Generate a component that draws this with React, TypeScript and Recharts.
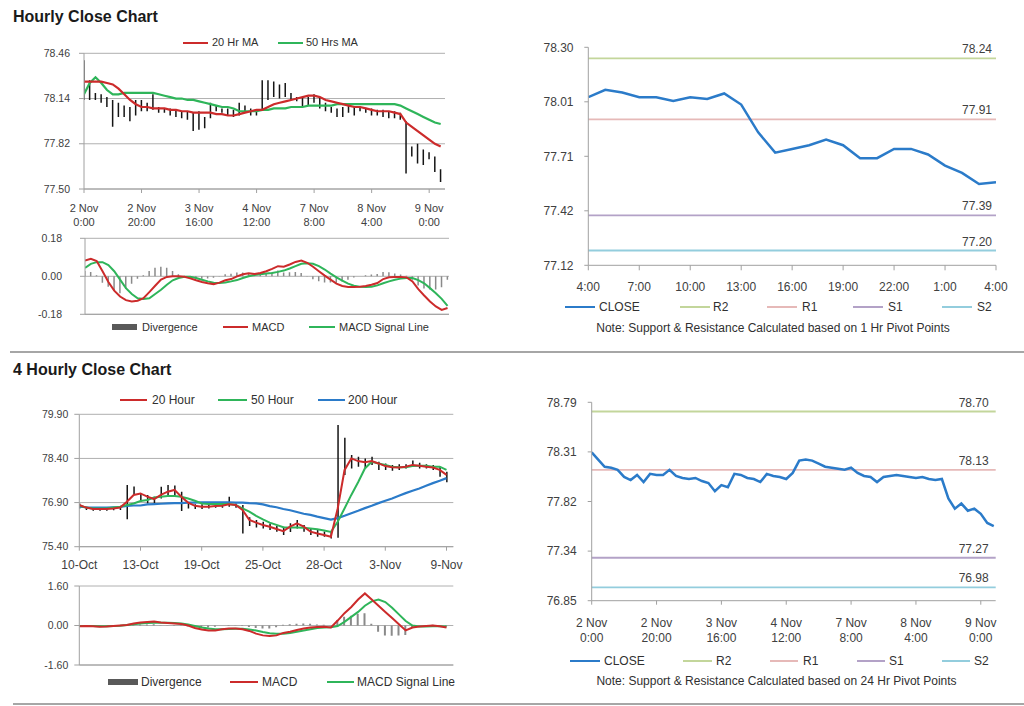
import React from 'react';
import { ComposedChart, Line, Bar, XAxis, YAxis, CartesianGrid, ReferenceLine } from 'recharts';

const FONT = '"Liberation Sans", Arial, Helvetica, sans-serif';
const TICK_COLOR = '#404040';
const TEXT_COLOR = '#303030';
const AXIS_COLOR = '#a0a0a0';
const GRID_COLOR = '#b0b0b0';
const RED = '#cc2b2b';
const GREEN = '#2fb55a';
const BLUE = '#2b7bc9';
const BAR_BLACK = '#151515';
const DIV_GRAY = '#8a8a8a';

// ---------------- Hourly close chart (2-hour steps from 2 Nov 0:00) ----------------
const hourlyHours = Array.from({ length: 63 }, (_, i) => i * 2);
const hourlyTickHours = [0, 20, 40, 60, 80, 100, 120];
const hourlyTickLabels = [
  ['2 Nov', '0:00'], ['2 Nov', '20:00'], ['3 Nov', '16:00'], ['4 Nov', '12:00'],
  ['7 Nov', '8:00'], ['8 Nov', '4:00'], ['9 Nov', '0:00'],
];
const hourlyYTicks = [77.5, 77.82, 78.14, 78.46];
const hourlyYLabels = ['77.50', '77.82', '78.14', '78.46'];

const hourlyLow = [
  78.13, 78.13, 78.13, 78.11, 78.08, 77.94, 78.01, 78.01, 77.98, 78.02,
  78.05, 78.05, 78.06, 78.04, 78.04, 78.02, 78.01, 78.00, 77.99, 77.91,
  77.92, 77.93, 78.00, 78.05, 78.04, 78.02, 78.01, 78.02, 78.04, 78.02,
  78.02, 78.06, 78.13, 78.15, 78.14, 78.15, 78.13, 78.12, 78.08, 78.09,
  78.11, 78.07, 78.05, 78.04, 78.01, 78.01, 78.04, 78.02, 78.05, 78.04,
  78.02, 78.02, 78.01, 78.00, 78.00, 77.99, 77.61, 77.73, 77.68, 77.67,
  77.71, 77.62, 77.55,
];
const hourlyHigh = [
  78.41, 78.27, 78.18, 78.17, 78.15, 78.13, 78.11, 78.09, 78.08, 78.13,
  78.13, 78.11, 78.17, 78.08, 78.07, 78.07, 78.06, 78.05, 78.05, 78.04,
  78.05, 78.01, 78.11, 78.09, 78.07, 78.07, 78.06, 78.11, 78.09, 78.07,
  78.06, 78.27, 78.27, 78.26, 78.24, 78.25, 78.18, 78.15, 78.15, 78.15,
  78.17, 78.15, 78.11, 78.08, 78.07, 78.08, 78.09, 78.08, 78.08, 78.07,
  78.07, 78.06, 78.06, 78.05, 78.05, 78.04, 77.98, 77.80, 77.82, 77.78,
  77.76, 77.73, 77.64,
];
const hourlyMa20 = [
  78.26, 78.26, 78.26, 78.26, 78.25, 78.24, 78.21, 78.17, 78.13, 78.10,
  78.08, 78.08, 78.07, 78.07, 78.07, 78.06, 78.06, 78.05, 78.05, 78.04,
  78.04, 78.04, 78.04, 78.03, 78.03, 78.02, 78.02, 78.03, 78.04, 78.05,
  78.06, 78.06, 78.08, 78.10, 78.11, 78.12, 78.13, 78.14, 78.15, 78.16,
  78.16, 78.15, 78.13, 78.12, 78.11, 78.10, 78.09, 78.08, 78.08, 78.07,
  78.06, 78.05, 78.05, 78.05, 78.04, 78.03, 77.97, 77.94, 77.91, 77.88,
  77.85, 77.82, 77.80,
];
const hourlyMa50 = [
  78.17, 78.25, 78.29, 78.25, 78.20, 78.17, 78.17, 78.18, 78.18, 78.18,
  78.18, 78.18, 78.18, 78.17, 78.16, 78.15, 78.14, 78.14, 78.13, 78.13,
  78.12, 78.11, 78.10, 78.09, 78.08, 78.08, 78.07, 78.05, 78.05, 78.05,
  78.05, 78.06, 78.06, 78.07, 78.07, 78.07, 78.08, 78.08, 78.08, 78.09,
  78.09, 78.09, 78.09, 78.09, 78.10, 78.10, 78.10, 78.10, 78.10, 78.10,
  78.10, 78.10, 78.10, 78.10, 78.10, 78.09, 78.07, 78.05, 78.03, 78.01,
  77.99, 77.97, 77.96,
];

// MACD of hourly chart
const macd1YTicks = [-0.18, 0, 0.18];
const macd1YLabels = ['-0.18', '0.00', '0.18'];
const macd1Line = [
  0.075, 0.083, 0.072, 0.024, -0.027, -0.068, -0.096, -0.113, -0.119, -0.116,
  -0.104, -0.075, -0.045, -0.016, -0.003, 0.0, 0.0, -0.002, -0.010, -0.019,
  -0.027, -0.033, -0.037, -0.030, -0.019, -0.013, 0.0, 0.010, 0.014, 0.011,
  0.016, 0.024, 0.035, 0.048, 0.045, 0.056, 0.068, 0.075, 0.064, 0.045,
  0.024, 0.003, -0.016, -0.035, -0.046, -0.051, -0.051, -0.049, -0.046, -0.040,
  -0.032, -0.013, -0.005, -0.003, -0.003, -0.005, -0.024, -0.061, -0.091, -0.119,
  -0.143, -0.159, -0.150,
];
const macd1Signal = [
  0.040, 0.059, 0.067, 0.067, 0.053, 0.024, -0.016, -0.056, -0.084, -0.104,
  -0.108, -0.104, -0.084, -0.064, -0.040, -0.019, -0.008, -0.002, -0.002, -0.008,
  -0.016, -0.024, -0.030, -0.032, -0.029, -0.024, -0.018, -0.008, 0.0, 0.006,
  0.010, 0.013, 0.016, 0.021, 0.027, 0.037, 0.048, 0.059, 0.062, 0.059,
  0.048, 0.032, 0.013, -0.005, -0.021, -0.035, -0.045, -0.049, -0.051, -0.049,
  -0.043, -0.033, -0.024, -0.016, -0.011, -0.008, -0.008, -0.018, -0.033, -0.056,
  -0.080, -0.107, -0.140,
];
const macd1Divergence = [
  0.025, 0.020, 0.005, -0.030, -0.050, -0.070, -0.080, -0.060, -0.035, -0.012,
  0.005, 0.025, 0.040, 0.045, 0.040, 0.025, 0.010, 0.0, -0.008, -0.010,
  -0.012, -0.010, -0.007, 0.002, 0.010, 0.012, 0.018, 0.018, 0.014, 0.005,
  0.006, 0.011, 0.019, 0.027, 0.018, 0.019, 0.020, 0.016, 0.002, -0.014,
  -0.024, -0.029, -0.029, -0.030, -0.025, -0.016, -0.006, 0.0, 0.005, 0.009,
  0.011, 0.020, 0.019, 0.013, 0.008, 0.003, -0.016, -0.043, -0.058, -0.063,
  -0.063, -0.052, -0.016,
];

// ---------------- 1 Hr close vs pivots (top right) ----------------
const intradayHours = Array.from({ length: 25 }, (_, i) => i);
const intradayTicks = [0, 3, 6, 9, 12, 15, 18, 21, 24];
const intradayTickLabels = ['4:00', '7:00', '10:00', '13:00', '16:00', '19:00', '22:00', '1:00', '4:00'];
const intradayClose = [
  78.03, 78.07, 78.055, 78.03, 78.03, 78.01, 78.03, 78.02, 78.05, 77.99,
  77.84, 77.73, 77.75, 77.77, 77.80, 77.77, 77.70, 77.70, 77.75, 77.75,
  77.72, 77.66, 77.62, 77.56, 77.57,
];
const intradayYTicks = [77.12, 77.415, 77.71, 78.005, 78.3];
const intradayYLabels = ['77.12', '77.42', '77.71', '78.01', '78.30'];
const pivotNames = ['R2', 'R1', 'S1', 'S2'];
const pivotColors = ['#c3d69b', '#e6b9b8', '#b3a2c7', '#93cddd'];
const pivots1h = [78.24, 77.91, 77.39, 77.2];
const pivots1hLabels = ['78.24', '77.91', '77.39', '77.20'];

// ---------------- 4 Hourly close chart ----------------
const fourHourIdx = Array.from({ length: 55 }, (_, i) => i * 2);
const fourHourTicks = [0, 18, 36, 54, 72, 90, 108];
const fourHourTickLabels = ['10-Oct', '13-Oct', '19-Oct', '25-Oct', '28-Oct', '3-Nov', '9-Nov'];
const fourHourYTicks = [75.4, 76.9, 78.4, 79.9];
const fourHourYLabels = ['75.40', '76.90', '78.40', '79.90'];
const fourHourLow = [
  76.70, 76.65, 76.62, 76.62, 76.62, 76.64, 76.65, 76.33, 77.16, 76.93,
  76.87, 76.87, 77.04, 77.16, 77.10, 76.61, 76.70, 76.68, 76.68, 76.70,
  76.72, 76.72, 76.76, 76.72, 75.85, 76.10, 76.05, 76.02, 75.97, 75.91,
  75.80, 75.90, 76.02, 75.91, 75.80, 75.74, 75.74, 75.68, 75.70, 77.84,
  78.06, 78.12, 78.06, 78.18, 78.01, 78.01, 77.98, 78.01, 78.06, 78.12,
  78.06, 78.06, 78.01, 77.78, 77.59,
];
const fourHourHigh = [
  76.87, 76.76, 76.70, 76.70, 76.70, 76.72, 76.76, 77.50, 77.45, 77.21,
  77.16, 77.10, 77.44, 77.50, 77.48, 77.27, 76.87, 76.84, 76.84, 76.82,
  76.85, 76.87, 77.10, 76.87, 76.82, 76.40, 76.31, 76.25, 76.19, 76.10,
  76.08, 76.20, 76.31, 76.14, 76.02, 75.97, 75.92, 75.91, 79.54, 79.10,
  78.52, 78.46, 78.40, 78.46, 78.29, 78.23, 78.18, 78.20, 78.20, 78.33,
  78.25, 78.20, 78.18, 78.12, 77.95,
];
const fourHourMa20 = [
  76.82, 76.73, 76.68, 76.68, 76.68, 76.70, 76.73, 76.93, 77.16, 77.21,
  77.10, 77.02, 77.16, 77.27, 77.33, 77.10, 76.90, 76.79, 76.76, 76.76,
  76.78, 76.79, 76.84, 76.82, 76.65, 76.31, 76.22, 76.14, 76.08, 76.00,
  75.93, 76.08, 76.19, 76.08, 75.91, 75.85, 75.80, 75.74, 76.70, 78.00,
  78.40, 78.31, 78.27, 78.31, 78.23, 78.14, 78.10, 78.09, 78.12, 78.18,
  78.15, 78.12, 78.09, 78.01, 77.84,
];
const fourHourMa50 = [
  76.79, 76.73, 76.70, 76.70, 76.70, 76.73, 76.76, 76.82, 76.87, 76.95,
  76.99, 77.07, 77.10, 77.12, 77.12, 77.10, 77.04, 76.96, 76.87, 76.85,
  76.85, 76.85, 76.85, 76.82, 76.70, 76.59, 76.45, 76.33, 76.22, 76.14,
  76.06, 76.05, 76.05, 76.04, 76.02, 75.99, 75.95, 75.90, 76.25, 76.70,
  77.16, 77.59, 78.06, 78.29, 78.23, 78.18, 78.12, 78.10, 78.10, 78.14,
  78.15, 78.15, 78.12, 78.12, 78.01,
];
const fourHourMa200 = [
  76.76, 76.74, 76.73, 76.73, 76.73, 76.74, 76.75, 76.79, 76.80, 76.80,
  76.84, 76.85, 76.86, 76.87, 76.88, 76.88, 76.90, 76.90, 76.91, 76.91,
  76.91, 76.91, 76.91, 76.90, 76.90, 76.88, 76.87, 76.84, 76.78, 76.74,
  76.68, 76.64, 76.58, 76.52, 76.48, 76.42, 76.37, 76.32, 76.37, 76.45,
  76.54, 76.62, 76.71, 76.79, 76.88, 76.96, 77.04, 77.13, 77.22, 77.30,
  77.38, 77.47, 77.56, 77.64, 77.73,
];

// MACD of 4 hourly chart
const macd2YTicks = [-1.6, 0, 1.6];
const macd2YLabels = ['-1.60', '0.00', '1.60'];
const macd2Line = [
  -0.03, -0.02, -0.03, -0.05, -0.04, -0.02, 0.0, 0.02, 0.08, 0.12,
  0.14, 0.16, 0.12, 0.10, 0.08, 0.06, 0.0, -0.10, -0.16, -0.20,
  -0.20, -0.15, -0.12, -0.12, -0.15, -0.22, -0.33, -0.40, -0.43, -0.40,
  -0.30, -0.25, -0.18, -0.12, -0.08, -0.06, -0.05, -0.08, 0.20, 0.50,
  0.75, 1.05, 1.30, 1.05, 0.80, 0.55, 0.30, 0.05, -0.20, -0.08,
  -0.04, -0.02, 0.0, -0.03, -0.08,
];
const macd2Signal = [
  -0.02, -0.02, -0.02, -0.03, -0.03, -0.02, -0.01, 0.02, 0.05, 0.08,
  0.10, 0.11, 0.11, 0.11, 0.10, 0.08, 0.04, -0.02, -0.08, -0.12,
  -0.15, -0.15, -0.14, -0.13, -0.13, -0.16, -0.20, -0.26, -0.31, -0.33,
  -0.33, -0.30, -0.25, -0.20, -0.15, -0.10, -0.08, -0.07, -0.02, 0.15,
  0.35, 0.55, 0.80, 0.98, 1.05, 0.95, 0.72, 0.45, 0.18, 0.0,
  -0.04, -0.04, -0.03, -0.03, -0.04,
];
const macd2Divergence = [
  0.0, 0.0, -0.01, -0.02, -0.01, 0.0, 0.01, 0.0, 0.03, 0.04,
  0.04, 0.05, 0.01, -0.01, -0.02, -0.02, -0.04, -0.08, -0.08, -0.08,
  -0.05, 0.0, 0.02, 0.01, -0.02, -0.06, -0.10, -0.12, -0.12, -0.07,
  0.03, 0.05, 0.07, 0.08, 0.07, 0.04, 0.03, -0.01, 0.22, 0.35,
  0.40, 0.48, 0.50, 0.07, -0.25, -0.40, -0.42, -0.40, -0.38, -0.08,
  0.0, 0.02, 0.03, 0.0, -0.04,
];

// ---------------- 24 Hr pivots chart (bottom right) ----------------
const dailyClose = [
  78.30, 78.23, 78.16, 78.15, 78.13, 78.06, 78.03, 78.08, 78.01, 78.09,
  78.08, 78.08, 78.13, 78.07, 78.05, 78.04, 78.05, 78.02, 78.00, 77.92,
  77.98, 77.96, 78.09, 78.08, 78.05, 78.04, 78.01, 78.09, 78.07, 78.06,
  78.04, 78.10, 78.22, 78.23, 78.22, 78.19, 78.16, 78.15, 78.14, 78.13,
  78.15, 78.10, 78.07, 78.06, 78.01, 78.06, 78.07, 78.08, 78.07, 78.06,
  78.05, 78.06, 78.04, 78.03, 78.04, 77.85, 77.75, 77.80, 77.73, 77.75,
  77.70, 77.61, 77.58,
];
const dailyYTicks = [76.85, 77.335, 77.82, 78.305, 78.79];
const dailyYLabels = ['76.85', '77.34', '77.82', '78.31', '78.79'];
const pivots24h = [78.7, 78.13, 77.27, 76.98];
const pivots24hLabels = ['78.70', '78.13', '77.27', '76.98'];

// ---------------- chart tables ----------------
const hourlyData = hourlyHours.map((t, i) => ({
  t, range: [hourlyLow[i], hourlyHigh[i]], ma20: hourlyMa20[i], ma50: hourlyMa50[i],
}));
const macd1Data = hourlyHours.map((t, i) => ({
  t, macd: macd1Line[i], signal: macd1Signal[i], div: macd1Divergence[i],
}));
const intradayData = intradayHours.map((t, i) => ({ t, close: intradayClose[i] }));
const fourHourData = fourHourIdx.map((u, i) => ({
  u, range: [fourHourLow[i], fourHourHigh[i]], ma20: fourHourMa20[i], ma50: fourHourMa50[i], ma200: fourHourMa200[i],
}));
const macd2Data = fourHourIdx.map((u, i) => ({
  u, macd: macd2Line[i], signal: macd2Signal[i], div: macd2Divergence[i],
}));
const dailyData = hourlyHours.map((t, i) => ({ t, close: dailyClose[i] }));

// ---------------- helpers ----------------
function nearestIndex(arr: number[], v: number) {
  let best = 0;
  for (let i = 1; i < arr.length; i++) if (Math.abs(arr[i] - v) < Math.abs(arr[best] - v)) best = i;
  return best;
}

function makeYTick(ticks: number[], labels: string[], fontSize: number) {
  return (props: any) => {
    const { x, y, payload } = props;
    return (
      <text x={x} y={y} dy={fontSize * 0.35} textAnchor="end" fill={TICK_COLOR} fontSize={fontSize} fontFamily={FONT}>
        {labels[nearestIndex(ticks, payload.value)]}
      </text>
    );
  };
}

function makeXTick(ticks: number[], labels: string[], fontSize: number, dy: number) {
  return (props: any) => {
    const { x, y, payload } = props;
    return (
      <text x={x} y={y} dy={dy} textAnchor="middle" fill={TICK_COLOR} fontSize={fontSize} fontFamily={FONT}>
        {labels[nearestIndex(ticks, payload.value)]}
      </text>
    );
  };
}

function makeTwoLineTick(ticks: number[], labels: string[][], fontSize: number, dy1: number, lh: number) {
  return (props: any) => {
    const { x, y, payload } = props;
    const lab = labels[nearestIndex(ticks, payload.value)];
    return (
      <text x={x} y={y} textAnchor="middle" fill={TICK_COLOR} fontSize={fontSize} fontFamily={FONT}>
        <tspan x={x} dy={dy1}>{lab[0]}</tspan>
        <tspan x={x} dy={lh}>{lab[1]}</tspan>
      </text>
    );
  };
}

const PivotLabel = (props: any) => {
  const vb = props.viewBox || {};
  return (
    <text x={vb.x + vb.width - props.inset} y={vb.y - 5} textAnchor="end" fill={TICK_COLOR} fontSize={12} fontFamily={FONT}>
      {props.text}
    </text>
  );
};

type LegendItem = { name: string; color: string; block?: boolean; x: number; w: number; tx: number };
function LegendRow({ cy, fontSize, items }: { cy: number; fontSize: number; items: LegendItem[] }) {
  return (
    <>
      {items.map((it) => (
        <React.Fragment key={it.name + it.x}>
          <div style={{
            position: 'absolute', left: it.x, top: cy - (it.block ? 3 : 1), width: it.w,
            height: it.block ? 6 : 2, background: it.color,
          }} />
          <div style={{
            position: 'absolute', left: it.tx, top: cy - fontSize * 0.59, fontSize, lineHeight: `${fontSize * 1.2}px`,
            color: TEXT_COLOR, whiteSpace: 'nowrap', fontFamily: FONT,
          }}>{it.name}</div>
        </React.Fragment>
      ))}
    </>
  );
}

function Note({ cy, cx, text }: { cy: number; cx: number; text: string }) {
  return (
    <div style={{
      position: 'absolute', left: cx - 250, width: 500, top: cy - 12 * 0.59, fontSize: 12, lineHeight: '14.4px',
      color: TEXT_COLOR, textAlign: 'center', whiteSpace: 'nowrap', fontFamily: FONT,
    }}>{text}</div>
  );
}

const abs = (left: number, top: number): React.CSSProperties => ({ position: 'absolute', left, top });

export default function App() {
  return (
    <div style={{ position: 'absolute', left: 0, top: 0, width: 1024, height: 706, background: '#fff', fontFamily: FONT, overflow: 'hidden' }}>
      {/* titles */}
      <div style={{ position: 'absolute', left: 13, top: 6.6, fontSize: 16, fontWeight: 'bold', lineHeight: '19.2px', color: '#1a1a1a' }}>Hourly Close Chart</div>
      <div style={{ position: 'absolute', left: 13, top: 360.4, fontSize: 16, fontWeight: 'bold', lineHeight: '19.2px', color: '#1a1a1a' }}>4 Hourly Close Chart</div>
      <div style={{ position: 'absolute', left: 10, top: 351, width: 1014, height: 2, background: '#a6a6a6' }} />
      <div style={{ position: 'absolute', left: 13, top: 703, width: 1011, height: 2, background: '#a6a6a6' }} />

      {/* Panel 1: hourly close */}
      <LegendRow cy={42.7} fontSize={11} items={[
        { name: '20 Hr MA', color: RED, x: 183, w: 25, tx: 212 },
        { name: '50 Hrs MA', color: GREEN, x: 278, w: 25, tx: 306 },
      ]} />
      <div style={abs(0, 30)}>
        <ComposedChart width={460} height={220} data={hourlyData} margin={{ top: 23.3, right: 15, bottom: 0, left: 0 }}>
          <CartesianGrid vertical={false} stroke={GRID_COLOR} />
          <XAxis dataKey="t" type="number" domain={[0, 125.5]} ticks={hourlyTickHours} interval={0} allowDataOverflow
            height={61} tickSize={4} tickMargin={2} stroke={AXIS_COLOR}
            tick={makeTwoLineTick(hourlyTickHours, hourlyTickLabels, 11, 17, 14)} />
          <YAxis type="number" domain={[77.5, 78.46]} ticks={hourlyYTicks} interval={0} allowDataOverflow
            width={84} tickSize={5} tickMargin={9} stroke={AXIS_COLOR}
            tick={makeYTick(hourlyYTicks, hourlyYLabels, 10.5)} />
          <Bar dataKey="range" fill={BAR_BLACK} barSize={1.5} isAnimationActive={false} />
          <Line type="linear" dataKey="ma50" stroke={GREEN} strokeWidth={2.2} dot={false} isAnimationActive={false} />
          <Line type="linear" dataKey="ma20" stroke={RED} strokeWidth={2.2} dot={false} isAnimationActive={false} />
        </ComposedChart>
      </div>

      {/* Panel 2: hourly MACD */}
      <div style={abs(0, 225)}>
        <ComposedChart width={460} height={100} data={macd1Data} margin={{ top: 13.3, right: 11, bottom: 8, left: 0 }}>
          <CartesianGrid vertical={false} stroke={GRID_COLOR} />
          <XAxis dataKey="t" type="number" domain={[0, 124.5]} allowDataOverflow height={2.7}
            tick={false} tickLine={false} stroke={AXIS_COLOR} />
          <YAxis type="number" domain={[-0.18, 0.18]} ticks={macd1YTicks} interval={0} allowDataOverflow
            width={85} tickSize={5} tickMargin={18} stroke={AXIS_COLOR}
            tick={makeYTick(macd1YTicks, macd1YLabels, 10.5)} />
          <Bar dataKey="div" fill={DIV_GRAY} barSize={1.5} isAnimationActive={false} />
          <Line type="linear" dataKey="signal" stroke={GREEN} strokeWidth={2} dot={false} isAnimationActive={false} />
          <Line type="linear" dataKey="macd" stroke={RED} strokeWidth={2} dot={false} isAnimationActive={false} />
        </ComposedChart>
      </div>
      <LegendRow cy={327} fontSize={11} items={[
        { name: 'Divergence', color: '#595959', block: true, x: 112, w: 25, tx: 142 },
        { name: 'MACD', color: RED, x: 223, w: 25, tx: 252 },
        { name: 'MACD Signal Line', color: GREEN, x: 309, w: 26, tx: 339 },
      ]} />

      {/* Panel 3: 1 Hr pivots */}
      <div style={abs(530, 30)}>
        <ComposedChart width={480} height={272} data={intradayData} margin={{ top: 17.3, right: 14, bottom: 0, left: 0 }}>
          <XAxis dataKey="t" type="number" domain={[0, 24]} ticks={intradayTicks} interval={0} allowDataOverflow
            height={36.7} tickSize={5} tickMargin={2} stroke={AXIS_COLOR}
            tick={makeXTick(intradayTicks, intradayTickLabels, 12, 19)} />
          <YAxis type="number" domain={[77.12, 78.3]} ticks={intradayYTicks} interval={0} allowDataOverflow
            width={58.3} tickSize={4} tickMargin={10.8} stroke={AXIS_COLOR}
            tick={makeYTick(intradayYTicks, intradayYLabels, 12)} />
          {pivots1h.map((v, i) => (
            <ReferenceLine key={pivotNames[i]} y={v} stroke={pivotColors[i]} strokeWidth={1.8}
              label={<PivotLabel text={pivots1hLabels[i]} inset={4} />} />
          ))}
          <Line type="linear" dataKey="close" stroke={BLUE} strokeWidth={2.5} dot={false} isAnimationActive={false} />
        </ComposedChart>
      </div>
      <LegendRow cy={307} fontSize={12} items={[
        { name: 'CLOSE', color: BLUE, x: 565, w: 30, tx: 599 },
        { name: pivotNames[0], color: pivotColors[0], x: 680, w: 30, tx: 713 },
        { name: pivotNames[1], color: pivotColors[1], x: 767, w: 30, tx: 802 },
        { name: pivotNames[2], color: pivotColors[2], x: 853, w: 30, tx: 888 },
        { name: pivotNames[3], color: pivotColors[3], x: 942, w: 30, tx: 977 },
      ]} />
      <Note cy={328} cx={773} text="Note: Support & Resistance Calculated based on 1 Hr Pivot Points" />

      {/* Panel 4: 4 hourly close */}
      <LegendRow cy={400} fontSize={12} items={[
        { name: '20 Hour', color: RED, x: 120, w: 27, tx: 152 },
        { name: '50 Hour', color: GREEN, x: 218, w: 29, tx: 251 },
        { name: '200 Hour', color: BLUE, x: 318, w: 27, tx: 348 },
      ]} />
      <div style={abs(0, 380)}>
        <ComposedChart width={470} height={200} data={fourHourData} margin={{ top: 34.3, right: 16.7, bottom: 0, left: 0 }}>
          <CartesianGrid vertical={false} stroke={GRID_COLOR} />
          <XAxis dataKey="u" type="number" domain={[0, 110]} ticks={fourHourTicks} interval={0} allowDataOverflow
            height={33.3} tickSize={4} tickMargin={2} stroke={AXIS_COLOR}
            tick={makeXTick(fourHourTicks, fourHourTickLabels, 12, 16.6)} />
          <YAxis type="number" domain={[75.4, 79.9]} ticks={fourHourYTicks} interval={0} allowDataOverflow
            width={79.3} tickSize={5} tickMargin={6} stroke={AXIS_COLOR}
            tick={makeYTick(fourHourYTicks, fourHourYLabels, 10.5)} />
          <Bar dataKey="range" fill={BAR_BLACK} barSize={1.5} isAnimationActive={false} />
          <Line type="linear" dataKey="ma200" stroke={BLUE} strokeWidth={2.2} dot={false} isAnimationActive={false} />
          <Line type="linear" dataKey="ma50" stroke={GREEN} strokeWidth={2} dot={false} isAnimationActive={false} />
          <Line type="linear" dataKey="ma20" stroke={RED} strokeWidth={2} dot={false} isAnimationActive={false} />
        </ComposedChart>
      </div>

      {/* Panel 5: 4 hourly MACD */}
      <div style={abs(0, 570)}>
        <ComposedChart width={470} height={108} data={macd2Data} margin={{ top: 16, right: 16.7, bottom: 8, left: 0 }}>
          <CartesianGrid vertical={false} stroke={GRID_COLOR} />
          <XAxis dataKey="u" type="number" domain={[0, 110]} allowDataOverflow height={5}
            tick={false} tickLine={false} stroke={AXIS_COLOR} />
          <YAxis type="number" domain={[-1.6, 1.6]} ticks={macd2YTicks} interval={0} allowDataOverflow
            width={79.3} tickSize={5} tickMargin={6} stroke={AXIS_COLOR}
            tick={makeYTick(macd2YTicks, macd2YLabels, 10.5)} />
          <Bar dataKey="div" fill={DIV_GRAY} barSize={2} isAnimationActive={false} />
          <Line type="linear" dataKey="signal" stroke={GREEN} strokeWidth={2} dot={false} isAnimationActive={false} />
          <Line type="linear" dataKey="macd" stroke={RED} strokeWidth={2} dot={false} isAnimationActive={false} />
        </ComposedChart>
      </div>
      <LegendRow cy={682} fontSize={12} items={[
        { name: 'Divergence', color: '#595959', block: true, x: 108, w: 30, tx: 141 },
        { name: 'MACD', color: RED, x: 230, w: 28, tx: 262 },
        { name: 'MACD  Signal Line', color: GREEN, x: 327, w: 27, tx: 357 },
      ]} />

      {/* Panel 6: 24 Hr pivots */}
      <div style={abs(530, 380)}>
        <ComposedChart width={480} height={270} data={dailyData} margin={{ top: 22.3, right: 14.3, bottom: 0, left: 0 }}>
          <XAxis dataKey="t" type="number" domain={[0, 124.6]} ticks={hourlyTickHours} interval={0} allowDataOverflow
            height={49.3} tickSize={4} tickMargin={2} stroke={AXIS_COLOR}
            tick={makeTwoLineTick(hourlyTickHours, hourlyTickLabels, 12, 20.3, 14.6)} />
          <YAxis type="number" domain={[76.85, 78.79]} ticks={dailyYTicks} interval={0} allowDataOverflow
            width={61.7} tickSize={4} tickMargin={11} stroke={AXIS_COLOR}
            tick={makeYTick(dailyYTicks, dailyYLabels, 12)} />
          {pivots24h.map((v, i) => (
            <ReferenceLine key={pivotNames[i]} y={v} stroke={pivotColors[i]} strokeWidth={1.8}
              label={<PivotLabel text={pivots24hLabels[i]} inset={7} />} />
          ))}
          <Line type="linear" dataKey="close" stroke={BLUE} strokeWidth={2.5} dot={false} isAnimationActive={false} />
        </ComposedChart>
      </div>
      <LegendRow cy={660.7} fontSize={12} items={[
        { name: 'CLOSE', color: BLUE, x: 570, w: 30, tx: 604 },
        { name: pivotNames[0], color: pivotColors[0], x: 683, w: 29, tx: 716 },
        { name: pivotNames[1], color: pivotColors[1], x: 770, w: 28, tx: 803 },
        { name: pivotNames[2], color: pivotColors[2], x: 857, w: 28, tx: 889 },
        { name: pivotNames[3], color: pivotColors[3], x: 942, w: 28, tx: 974 },
      ]} />
      <Note cy={680.7} cx={776.5} text="Note: Support & Resistance Calculated based on 24 Hr Pivot Points" />
    </div>
  );
}
